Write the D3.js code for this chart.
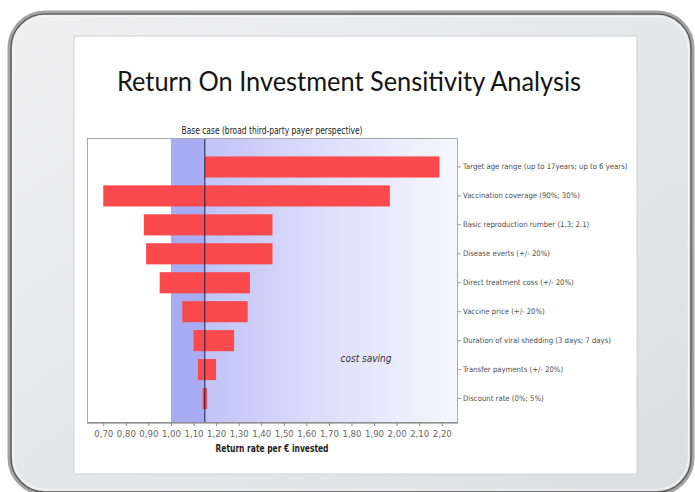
<!DOCTYPE html>
<html>
<head>
<meta charset="utf-8">
<script src="https://cdn.jsdelivr.net/npm/d3@7"></script>
<style>
  html, body { margin: 0; padding: 0; background: #fff; }
  svg { display: block; }
</style>
</head>
<body>
<svg id="chart" width="695" height="492"></svg>
<script>
// ---- data ----
const categories = [
  "Target age range (up to 17years; up to 6 years)",
  "Vaccination coverage (90%; 30%)",
  "Basic reproduction rumber (1.3; 2.1)",
  "Disease everts (+/- 20%)",
  "Direct treatment coss (+/- 20%)",
  "Vaccine price (+/- 20%)",
  "Duration of viral shedding (3 days; 7 days)",
  "Transfer payments (+/- 20%)",
  "Discount rate (0%; 5%)"
];
const lowValues  = [1.15, 0.70, 0.88, 0.89, 0.95, 1.05, 1.10, 1.12, 1.14];
const highValues = [2.19, 1.97, 1.45, 1.45, 1.35, 1.34, 1.28, 1.20, 1.16];
const baseCase = 1.15;
const breakEven = 1.00;
const tickValues = [0.70, 0.80, 0.90, 1.00, 1.10, 1.20, 1.30, 1.40, 1.50, 1.60, 1.70, 1.80, 1.90, 2.00, 2.10, 2.20];
const tickLabels = ["0,70","0,80","0,90","1,00","1,10","1,20","1,30","1,40","1,50","1,60","1,70","1,80","1,90","2,00","2,10","2,20"];

const svg = d3.select("#chart");
const defs = svg.append("defs");

// ---- tablet frame ----
const bez = defs.append("linearGradient").attr("id","bezel").attr("x1","0").attr("y1","0").attr("x2","1").attr("y2","1");
bez.append("stop").attr("offset","0").attr("stop-color","#f0f0f1");
bez.append("stop").attr("offset","0.5").attr("stop-color","#e6e7e9");
bez.append("stop").attr("offset","1").attr("stop-color","#dcdde0");

svg.append("rect").attr("x",9).attr("y",12).attr("width",684).attr("height",482).attr("rx",36)
  .attr("fill","url(#bezel)").attr("stroke","#a3a3a3").attr("stroke-width",3);
svg.append("rect").attr("x",11).attr("y",14).attr("width",680).attr("height",478).attr("rx",34)
  .attr("fill","none").attr("stroke","#5c5c5c").attr("stroke-width",1.6);
svg.append("rect").attr("x",13.5).attr("y",16.5).attr("width",675).attr("height",473).attr("rx",32)
  .attr("fill","none").attr("stroke","#f4f4f4").attr("stroke-width",1.2);

// screen
svg.append("rect").attr("x",74).attr("y",36).attr("width",563).attr("height",438)
  .attr("fill","#ffffff").attr("stroke","#cfd0d2").attr("stroke-width",1);

// ---- title ----
svg.append("text").attr("x",349).attr("y",91).attr("text-anchor","middle")
  .attr("font-family","Lato, 'Open Sans', sans-serif").attr("font-size",27).attr("fill","#151515")
  .attr("textLength",464).attr("lengthAdjust","spacingAndGlyphs")
  .text("Return On Investment Sensitivity Analysis");

// ---- chart ----
const plot = {left: 87, right: 458, top: 138, bottom: 423};
const x = d3.scaleLinear().domain([0.628, 2.272]).range([plot.left, plot.right]);
const y = d3.scaleBand().domain(categories).range([152.5, 413]).paddingInner(0.27).paddingOuter(0.135);

const grad = defs.append("linearGradient").attr("id","saving").attr("x1","0").attr("y1","0").attr("x2","1").attr("y2","0");
grad.append("stop").attr("offset","0").attr("stop-color","#c0c3f7");
grad.append("stop").attr("offset","0.45").attr("stop-color","#dcddfa");
grad.append("stop").attr("offset","1").attr("stop-color","#f7f7fe");

const g = svg.append("g");
g.append("rect").attr("x",plot.left).attr("y",plot.top).attr("width",plot.right-plot.left).attr("height",plot.bottom-plot.top)
  .attr("fill","#fff");
g.append("rect").attr("x",x(breakEven)).attr("y",plot.top).attr("width",x(baseCase)-x(breakEven)).attr("height",plot.bottom-plot.top)
  .attr("fill","#a8acf3");
g.append("rect").attr("x",x(baseCase)).attr("y",plot.top).attr("width",plot.right-x(baseCase)).attr("height",plot.bottom-plot.top)
  .attr("fill","url(#saving)");

// bars
g.selectAll("rect.bar").data(categories).join("rect").attr("class","bar")
  .attr("x",(d,i)=>x(lowValues[i]))
  .attr("width",(d,i)=>x(highValues[i])-x(lowValues[i]))
  .attr("y",d=>y(d)).attr("height",y.bandwidth())
  .attr("fill","#fa4a4e");

// base case line
g.append("line").attr("x1",x(baseCase)).attr("x2",x(baseCase)).attr("y1",plot.top).attr("y2",plot.bottom)
  .attr("stroke","#1c1c44").attr("stroke-width",1);

// plot frame
g.append("rect").attr("x",plot.left+0.5).attr("y",plot.top+0.5).attr("width",plot.right-plot.left-1).attr("height",plot.bottom-plot.top-1)
  .attr("fill","none").attr("stroke","#a8a8a8").attr("stroke-width",1);

// x axis
const xAxis = d3.axisBottom(x).tickValues(tickValues).tickSize(3).tickPadding(4)
  .tickFormat((d,i)=>tickLabels[i]);
const ax = svg.append("g").attr("transform",`translate(0,${plot.bottom})`).call(xAxis);
ax.select(".domain").attr("stroke","#777").attr("d",`M${plot.left},0H${plot.right}`);
ax.selectAll(".tick line").attr("stroke","#888");
ax.selectAll(".tick text").attr("font-family","'Liberation Sans Narrow', 'DejaVu Sans Condensed', sans-serif")
  .attr("font-size",9.5).attr("fill","#666");

// right category axis
const yAxis = d3.axisRight(y).tickSize(3).tickPadding(2);
const ay = svg.append("g").attr("transform",`translate(${plot.right},0)`).call(yAxis);
ay.select(".domain").remove();
ay.selectAll(".tick line").attr("stroke","#999");
ay.selectAll(".tick text").attr("font-family","'Liberation Sans Narrow', 'DejaVu Sans Condensed', sans-serif")
  .attr("font-size",7.7).attr("fill","#505050");

// subtitle
svg.append("text").attr("x",272).attr("y",134).attr("text-anchor","middle")
  .attr("font-family","'Liberation Sans Narrow', 'DejaVu Sans Condensed', sans-serif").attr("font-size",10).attr("fill","#222")
  .attr("textLength",181).attr("lengthAdjust","spacingAndGlyphs")
  .text("Base case (broad third-party payer perspective)");

// axis title
svg.append("text").attr("x",272).attr("y",452).attr("text-anchor","middle")
  .attr("font-family","'Liberation Sans Narrow', 'DejaVu Sans Condensed', sans-serif").attr("font-size",10.5)
  .attr("font-weight","bold").attr("fill","#222")
  .attr("textLength",113).attr("lengthAdjust","spacingAndGlyphs")
  .text("Return rate per € invested");

// annotation
svg.append("text").attr("x",366).attr("y",362).attr("text-anchor","middle")
  .attr("font-family","'Liberation Sans Narrow', 'DejaVu Sans Condensed', sans-serif").attr("font-size",10)
  .attr("font-style","italic").attr("fill","#333")
  .text("cost saving");
</script>
</body>
</html>
